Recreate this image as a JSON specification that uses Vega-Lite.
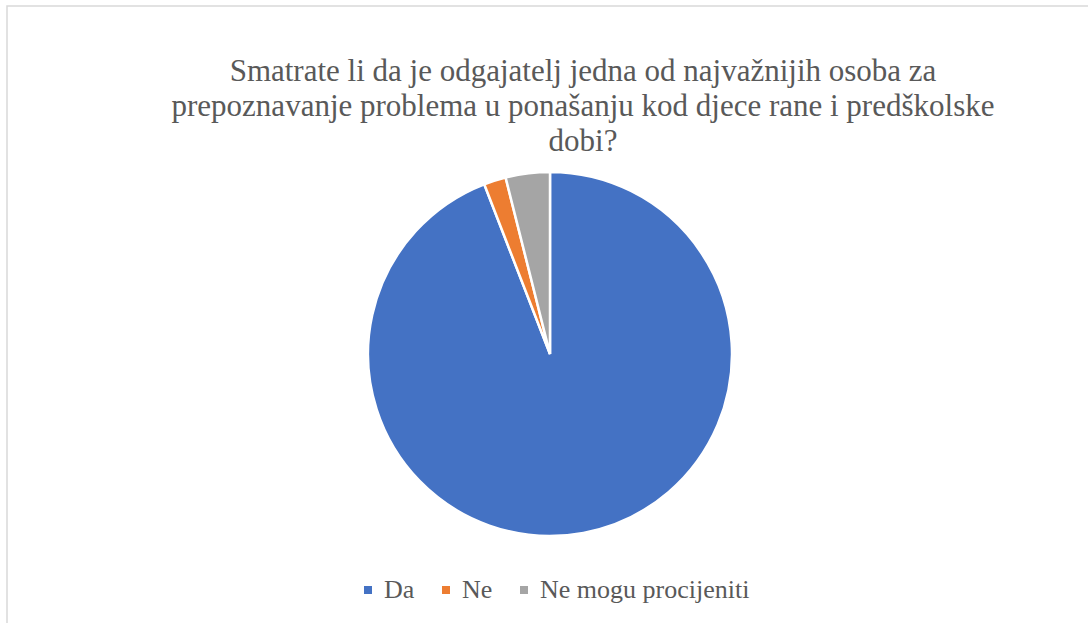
{
  "$schema": "https://vega.github.io/schema/vega-lite/v6.json",
  "width": 1086,
  "height": 696,
  "autosize": {"type": "none"},
  "padding": {"left": 7, "top": 6, "right": 0, "bottom": 0},
  "background": "white",
  "view": {"stroke": "#d9d9d9", "strokeWidth": 1.5, "fill": "white"},
  "config": {
    "view": {"stroke": "#d9d9d9", "strokeWidth": 1.5}
  },
  "title": {
    "text": ["Smatrate li da je odgajatelj jedna od najvažnijih osoba za", "prepoznavanje problema u ponašanju kod djece rane i predškolske", "dobi?"],
    "font": "Liberation Serif, serif",
    "fontSize": 31,
    "fontWeight": "normal",
    "color": "#595959",
    "lineHeight": 35,
    "anchor": "middle",
    "dx": 33,
    "offset": -152
  },
  "data": {
    "values": [
      {"odgovor": "Da", "broj": 48, "order": 1},
      {"odgovor": "Ne", "broj": 1, "order": 2},
      {"odgovor": "Ne mogu procijeniti", "broj": 2, "order": 3}
    ]
  },
  "mark": {"type": "arc", "outerRadius": 182, "stroke": "white", "strokeWidth": 2.5},
  "encoding": {
    "theta": {"field": "broj", "type": "quantitative", "stack": true},
    "order": {"field": "order", "type": "quantitative"},
    "color": {
      "field": "odgovor",
      "type": "nominal",
      "sort": ["Da", "Ne", "Ne mogu procijeniti"],
      "scale": {"domain": ["Da", "Ne", "Ne mogu procijeniti"], "range": ["#4472C4", "#ED7D31", "#A5A5A5"]},
      "legend": {
        "title": null,
        "orient": "none",
        "direction": "horizontal",
        "legendX": 348,
        "legendY": 571,
        "symbolType": "square",
        "symbolSize": 64,
        "symbolStrokeWidth": 0,
        "labelFont": "Liberation Serif, serif",
        "labelFontSize": 26,
        "labelColor": "#595959",
        "labelOffset": 3,
        "labelLimit": 400,
        "columnPadding": 18
      }
    }
  }
}
